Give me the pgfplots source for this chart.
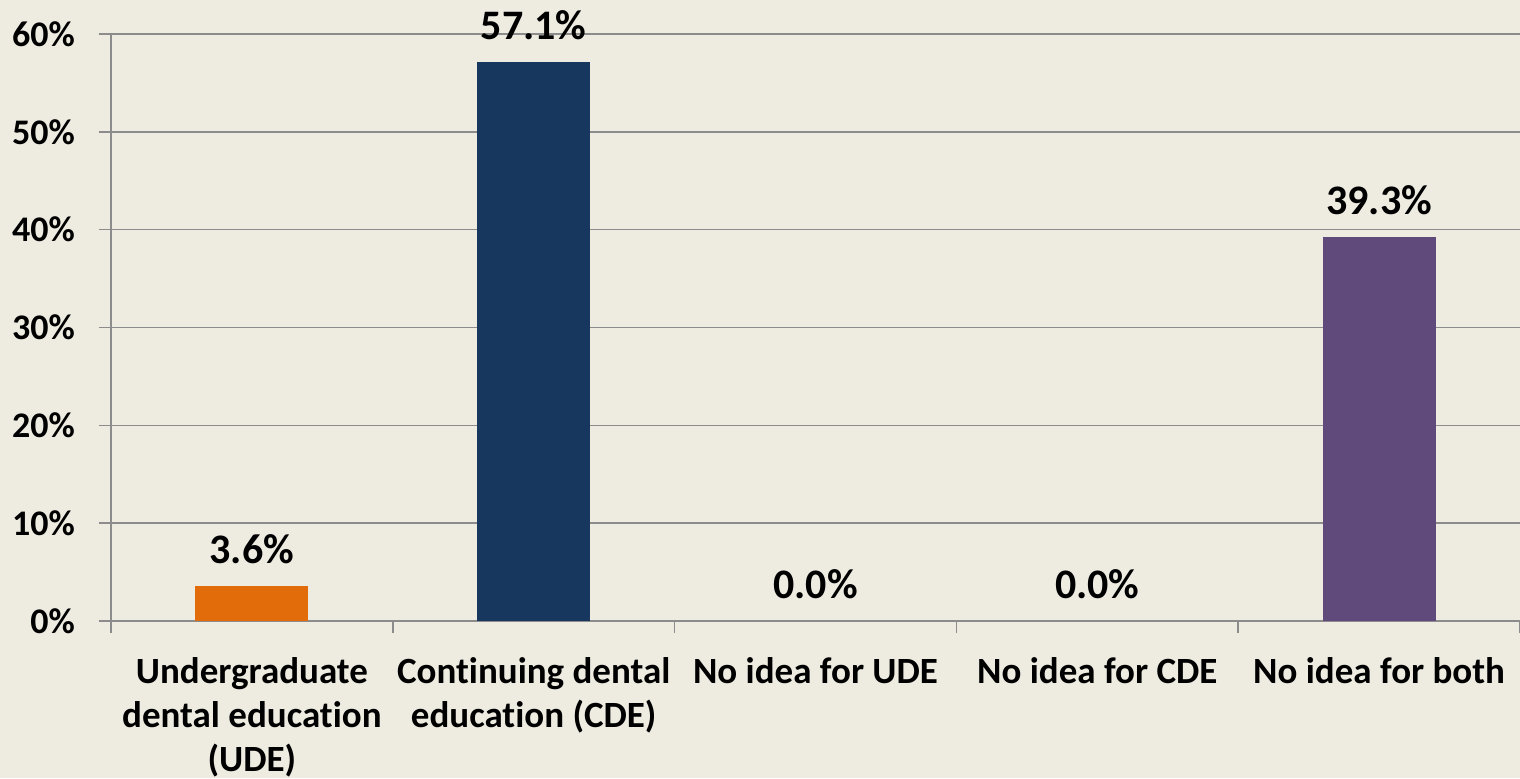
\documentclass[border=0pt]{standalone}
\usepackage{fontspec}
\setmainfont{Carlito}[Ligatures=NoCommon]
\usepackage{pgfplots}
\pgfplotsset{compat=1.18}
\definecolor{bg}{HTML}{EEECE1}
\definecolor{c1}{HTML}{E36C0A}
\definecolor{c2}{HTML}{17375E}
\definecolor{c3}{HTML}{604A7B}
\definecolor{gridc}{HTML}{8C8C8C}
\begin{document}
\begin{tikzpicture}
\fill[bg] (-55.5pt,-78.5pt) rectangle (704.5pt,310.5pt);
\path[use as bounding box] (-55.5pt,-78.5pt) rectangle (704.5pt,310.5pt);
\begin{axis}[
  at={(0pt,0pt)}, anchor=south west, scale only axis,
  width=704.5pt, height=293.5pt,
  xmin=0, xmax=5, ymin=0, ymax=60,
  axis x line*=bottom, axis y line*=left,
  axis line style={-, gridc, line width=0.75pt},
  ymajorgrids, grid style={gridc, line width=0.75pt},
  ytick={0,10,...,60},
  yticklabel={\pgfmathprintnumber{\tick}\%},
  yticklabel style={xshift=-8.5pt},
  xtick={0,1,2,3,4,5}, xticklabels={},
  tick align=outside, major tick length=6pt,
  tick style={gridc, line width=0.75pt},
  /pgf/number format/assume math mode=true,
  tick label style={font=\bfseries\fontsize{18}{22}\selectfont},
  extra x ticks={0.5,1.5,2.5,3.5,4.5},
  extra x tick labels={{Undergraduate\\dental education\\(UDE)},{Continuing dental\\education (CDE)},{No idea for UDE},{No idea for CDE},{No idea for both}},
  extra x tick style={major tick length=0pt, tick style={draw=none},
    xticklabel style={align=center, yshift=-14.5pt, font=\bfseries\fontsize{18.5}{22}\selectfont}},
  nodes near coords={\pgfmathprintnumber[fixed,fixed zerofill,precision=1]{\pgfplotspointmeta}\%},
  nodes near coords style={font=\bfseries\fontsize{21}{25}\selectfont, anchor=south, yshift=7.5pt, text=black},
  every axis plot/.append style={ybar, bar width=56.5pt, bar shift=0pt, draw=none},
]
\addplot[fill=c1] coordinates {(0.5,3.6)};
\addplot[fill=c2] coordinates {(1.5,57.1)};
\addplot[fill=none] coordinates {(2.5,0.0)};
\addplot[fill=none] coordinates {(3.5,0.0)};
\addplot[fill=c3] coordinates {(4.5,39.3)};
\end{axis}
\end{tikzpicture}
\end{document}
